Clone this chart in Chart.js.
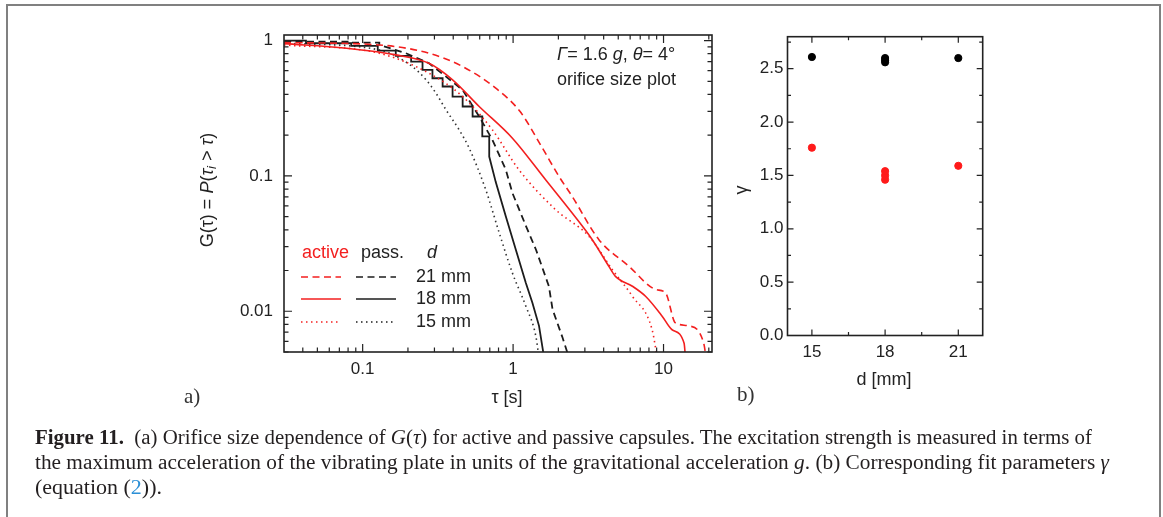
<!DOCTYPE html>
<html>
<head>
<meta charset="utf-8">
<script src="https://cdn.jsdelivr.net/npm/chart.js@4/dist/chart.umd.min.js"></script>
<style>
  body { margin: 0; background: #fff; width: 1163px; height: 517px; overflow: hidden; position: relative; }
  #frame { position: absolute; left: 6px; top: 4px; width: 1155px; height: 560px; border: 2.5px solid #808080; box-sizing: border-box; }
  canvas { position: absolute; left: 0; top: 0; }
  .cap { position: absolute; left: 35px; font-family: "Liberation Serif", serif; font-size: 20px; line-height: 25px;
         white-space: nowrap; transform-origin: 0 0; color: #231f20; }
  .lab { position: absolute; font-family: "Liberation Serif", serif; font-size: 21px; color: #333; }
</style>
</head>
<body>
<div id="frame"></div>
<canvas id="chartA" width="1163" height="517"></canvas>
<canvas id="chartB" width="1163" height="517"></canvas>
<div class="lab" style="left:184px;top:384px">a)</div>
<div class="lab" style="left:737px;top:382px">b)</div>
<div class="cap" data-w="1057" style="top:425px"><b>Figure 11.</b>&nbsp;&nbsp;(a) Orifice size dependence of <i>G</i>(<i>τ</i>) for active and passive capsules. The excitation strength is measured in terms of</div>
<div class="cap" data-w="1074" style="top:450px">the maximum acceleration of the vibrating plate in units of the gravitational acceleration <i>g</i>. (b) Corresponding fit parameters <i>γ</i></div>
<div class="cap" data-w="127" style="top:475px">(equation (<span style="color:#2b8fd6">2</span>)).</div>
<script>
// survival functions G(tau)
const tauA21 = [0.03, 0.128, 0.276, 0.462, 0.767, 1.11, 1.57, 2.02, 2.47, 3.72, 5.89, 8.85, 10.3, 12.0, 14.7, 18.5, 19.2];
const gA21   = [0.967, 0.929, 0.806, 0.643, 0.445, 0.30, 0.16, 0.099, 0.0706, 0.0338, 0.0215, 0.0145, 0.0137, 0.0082, 0.0078, 0.0058, 0.0045];
const tauA18 = [0.03, 0.078, 0.166, 0.276, 0.396, 0.595, 0.99, 1.645, 2.47, 3.36, 4.33, 4.79, 6.21, 7.59, 9.79, 11.4, 13.7, 14.0];
const gA18   = [0.95, 0.878, 0.784, 0.68, 0.513, 0.326, 0.19, 0.0937, 0.0532, 0.0338, 0.0215, 0.0181, 0.0153, 0.0129, 0.0092, 0.0073, 0.0058, 0.0045];
const tauA15 = [0.03, 0.129, 0.276, 0.462, 0.728, 1.094, 1.917, 3.19, 4.57, 6.21, 8.40, 9.09];
const gA15   = [0.93, 0.806, 0.574, 0.386, 0.219, 0.111, 0.0563, 0.0358, 0.0203, 0.0129, 0.0073, 0.0045];
const tauP21 = [0.03, 0.086, 0.086, 0.129, 0.129, 0.194, 0.276, 0.358, 0.462, 0.595, 0.728, 0.895, 0.99, 1.22, 1.42, 1.73, 1.83, 2.12, 2.36];
const gP21   = [0.983, 0.983, 0.967, 0.967, 0.929, 0.806, 0.68, 0.542, 0.432, 0.275, 0.185, 0.111, 0.0747, 0.0424, 0.0285, 0.0153, 0.0103, 0.0065, 0.0045];
const tauP18 = [0.03, 0.042, 0.042, 0.084, 0.084, 0.126, 0.126, 0.166, 0.166, 0.21, 0.21, 0.25, 0.25, 0.291, 0.291, 0.34, 0.34,
                0.396, 0.396, 0.462, 0.462, 0.538, 0.538, 0.624, 0.624, 0.694, 0.694, 0.767, 0.895, 1.043, 1.216, 1.345, 1.487, 1.61];
const gP18   = [1.0, 1.0, 0.956, 0.956, 0.913, 0.913, 0.844, 0.844, 0.77, 0.77, 0.70, 0.70, 0.608, 0.608, 0.527, 0.527, 0.458,
                0.458, 0.386, 0.386, 0.326, 0.326, 0.275, 0.275, 0.196, 0.196, 0.139, 0.09, 0.0502, 0.0285, 0.0162, 0.0115, 0.0078, 0.0045];
const tauP15 = [0.03, 0.129, 0.214, 0.264, 0.307, 0.358, 0.438, 0.511, 0.658, 0.809, 0.989, 1.216, 1.418, 1.487];
const gP15   = [0.956, 0.853, 0.643, 0.513, 0.409, 0.308, 0.219, 0.16, 0.0791, 0.0379, 0.0192, 0.0109, 0.0065, 0.0045];

const tauTicks = [0.04, 0.05, 0.06, 0.07, 0.08, 0.09, 0.1, 0.2, 0.3, 0.4, 0.5, 0.6, 0.7, 0.8, 0.9, 1,
                  2, 3, 4, 5, 6, 7, 8, 9, 10, 20];
const tauLabels = { 0.1: '0.1', 1: '1', 10: '10' };
const gTicks = [0.005, 0.006, 0.007, 0.008, 0.009, 0.01, 0.02, 0.03, 0.04, 0.05, 0.06, 0.07, 0.08, 0.09, 0.1,
                0.2, 0.3, 0.4, 0.5, 0.6, 0.7, 0.8, 0.9, 1];
const gLabels = { 0.01: '0.01', 0.1: '0.1', 1: '1' };

// fit parameter gamma, panel (b)
const dPassive = [15, 18, 18, 18, 21];
const gammaPassive = [2.61, 2.56, 2.58, 2.60, 2.60];
const dActive = [15, 18, 18, 18, 21];
const gammaActive = [1.76, 1.46, 1.50, 1.54, 1.59];
const dTicks = [15, 16.5, 18, 19.5, 21];
const dLabels = { 15: '15', 18: '18', 21: '21' };
const gammaTicks = [0, 0.25, 0.5, 0.75, 1, 1.25, 1.5, 1.75, 2, 2.25, 2.5, 2.75];

const FONT = '"Liberation Sans", Arial, sans-serif';
const RED = '#f31f1f';
const BLACK = '#1c1c1c';
Chart.defaults.font.family = FONT;
Chart.defaults.color = '#222';

function pts(xs, ys) {
  return xs.map((x, i) => ({ x: x, y: ys[i] }));
}

function richText(ctx, parts, x, y, size, align) {
  const f = (p) => (p.it ? 'italic ' : '') + Math.round(size * (p.s || 1)) + 'px ' + FONT;
  let w = 0;
  parts.forEach((p) => { ctx.font = f(p); w += ctx.measureText(p.t).width; });
  let cx = align === 'center' ? x - w / 2 : x;
  ctx.textAlign = 'left';
  ctx.textBaseline = 'middle';
  parts.forEach((p) => {
    ctx.font = f(p);
    ctx.fillText(p.t, cx, y + (p.dy || 0));
    cx += ctx.measureText(p.t).width;
  });
}

// closed frame with inward ticks on all four sides
function frameTicks(id, isMajX, isMajY, majLen, minLen) {
  return {
    id: id,
    afterDraw(chart) {
      const { ctx, chartArea: a } = chart;
      const xs = chart.scales.x, ys = chart.scales.y;
      ctx.save();
      ctx.strokeStyle = '#222';
      ctx.lineWidth = 1.6;
      ctx.strokeRect(a.left, a.top, a.right - a.left, a.bottom - a.top);
      ctx.lineWidth = 1.2;
      ctx.beginPath();
      xs.ticks.forEach((t) => {
        const p = xs.getPixelForValue(t.value);
        const l = isMajX(t.value) ? majLen : minLen;
        ctx.moveTo(p, a.bottom); ctx.lineTo(p, a.bottom - l);
        ctx.moveTo(p, a.top); ctx.lineTo(p, a.top + l);
      });
      ys.ticks.forEach((t) => {
        const p = ys.getPixelForValue(t.value);
        const l = isMajY(t.value) ? majLen : minLen;
        ctx.moveTo(a.left, p); ctx.lineTo(a.left + l, p);
        ctx.moveTo(a.right, p); ctx.lineTo(a.right - l, p);
      });
      ctx.stroke();
      ctx.restore();
    }
  };
}

const textA = {
  id: 'textA',
  afterDraw(chart) {
    const { ctx } = chart;
    ctx.save();
    ctx.fillStyle = '#222';
    richText(ctx, [{ t: 'τ [s]' }], 507, 398, 18, 'center');
    ctx.translate(208, 190);
    ctx.rotate(-Math.PI / 2);
    richText(ctx, [{ t: 'G(τ) = ' }, { t: 'P', it: 1 }, { t: '(' }, { t: 'τ', it: 1 },
      { t: 'i', it: 1, s: 0.7, dy: 4 }, { t: ' > ' }, { t: 'τ', it: 1 }, { t: ')' }], 0, 0, 18, 'center');
    ctx.restore();

    ctx.save();
    ctx.fillStyle = '#222';
    richText(ctx, [{ t: 'Γ', it: 1 }, { t: '= 1.6 ' }, { t: 'g', it: 1 }, { t: ', ' }, { t: 'θ', it: 1 }, { t: '= 4°' }], 557, 55, 18, 'left');
    richText(ctx, [{ t: 'orifice size plot' }], 557, 80, 18, 'left');

    // legend
    ctx.fillStyle = RED;
    richText(ctx, [{ t: 'active' }], 302, 253, 18, 'left');
    ctx.fillStyle = '#222';
    richText(ctx, [{ t: 'pass.' }], 361, 253, 18, 'left');
    richText(ctx, [{ t: 'd', it: 1 }], 427, 253, 18, 'left');
    const rows = [[277, [7, 4.5], '21 mm'], [299, [], '18 mm'], [322, [1.5, 3.5], '15 mm']];
    rows.forEach((r) => {
      ctx.lineWidth = 1.6;
      ctx.setLineDash(r[1]);
      ctx.strokeStyle = RED;
      ctx.beginPath(); ctx.moveTo(301, r[0]); ctx.lineTo(341, r[0]); ctx.stroke();
      ctx.strokeStyle = BLACK;
      ctx.beginPath(); ctx.moveTo(356, r[0]); ctx.lineTo(396, r[0]); ctx.stroke();
      ctx.setLineDash([]);
      richText(ctx, [{ t: r[2] }], 416, r[0], 18, 'left');
    });
    ctx.restore();
  }
};

const textB = {
  id: 'textB',
  afterDraw(chart) {
    const { ctx } = chart;
    ctx.save();
    ctx.fillStyle = '#222';
    richText(ctx, [{ t: 'd [mm]' }], 884, 380, 18, 'center');
    ctx.translate(742, 190);
    ctx.rotate(-Math.PI / 2);
    richText(ctx, [{ t: 'γ' }], 0, 0, 18, 'center');
    ctx.restore();
  }
};

function line(label, xs, ys, color, dash, width, smooth) {
  return {
    label: label,
    data: pts(xs, ys),
    borderColor: color,
    borderWidth: width,
    borderDash: dash,
    pointRadius: 0,
    fill: false,
    tension: 0,
    cubicInterpolationMode: smooth ? 'monotone' : 'default'
  };
}

new Chart(document.getElementById('chartA'), {
  type: 'line',
  data: {
    datasets: [
      line('active 21 mm', tauA21, gA21, RED, [7, 4.5], 1.6, true),
      line('active 18 mm', tauA18, gA18, RED, [], 1.6, true),
      line('active 15 mm', tauA15, gA15, RED, [1.5, 3.5], 1.6, true),
      line('pass. 21 mm', tauP21, gP21, BLACK, [7, 4.5], 1.8, false),
      line('pass. 18 mm', tauP18, gP18, BLACK, [], 1.8, false),
      line('pass. 15 mm', tauP15, gP15, '#333', [1.5, 3.5], 1.6, true)
    ]
  },
  options: {
    responsive: false,
    animation: false,
    layout: { padding: { left: 214, top: 35, right: 451, bottom: 125 } },
    plugins: { legend: { display: false }, tooltip: { enabled: false } },
    scales: {
      x: {
        type: 'logarithmic', min: 0.03, max: 21,
        grid: { display: false, drawTicks: false }, border: { display: false },
        afterBuildTicks: (s) => { s.ticks = tauTicks.map((v) => ({ value: v })); },
        afterFit: (s) => { s.height = 40; },
        ticks: { autoSkip: false, maxRotation: 0, padding: 7, font: { size: 17 }, color: '#222',
                 callback: (v) => tauLabels[v] || '' }
      },
      y: {
        type: 'logarithmic', min: 0.005, max: 1.1,
        grid: { display: false, drawTicks: false }, border: { display: false },
        afterBuildTicks: (s) => { s.ticks = gTicks.map((v) => ({ value: v })); },
        afterFit: (s) => { s.width = 70; },
        ticks: { autoSkip: false, padding: 11, font: { size: 17 }, color: '#222',
                 callback: (v) => gLabels[v] || '' }
      }
    }
  },
  plugins: [frameTicks('frameA', (v) => v in tauLabels, (v) => v in gLabels, 8, 4.5), textA]
});

new Chart(document.getElementById('chartB'), {
  type: 'scatter',
  data: {
    datasets: [
      { label: 'passive', data: pts(dPassive, gammaPassive), backgroundColor: '#000', borderColor: '#000', pointRadius: 3.6 },
      { label: 'active', data: pts(dActive, gammaActive), backgroundColor: '#ff1a1a', borderColor: '#ff1a1a', pointRadius: 3.6 }
    ]
  },
  options: {
    responsive: false,
    animation: false,
    layout: { padding: { left: 737.5, top: 36.7, right: 180.3, bottom: 141.5 } },
    plugins: { legend: { display: false }, tooltip: { enabled: false } },
    scales: {
      x: {
        type: 'linear', min: 14, max: 22,
        grid: { display: false, drawTicks: false }, border: { display: false },
        afterBuildTicks: (s) => { s.ticks = dTicks.map((v) => ({ value: v })); },
        afterFit: (s) => { s.height = 40; },
        ticks: { autoSkip: false, maxRotation: 0, padding: 7, font: { size: 17 }, color: '#222',
                 callback: (v) => dLabels[v] || '' }
      },
      y: {
        type: 'linear', min: 0, max: 2.8,
        grid: { display: false, drawTicks: false }, border: { display: false },
        afterBuildTicks: (s) => { s.ticks = gammaTicks.map((v) => ({ value: v })); },
        afterFit: (s) => { s.width = 50; },
        ticks: { autoSkip: false, padding: 4, font: { size: 17 }, color: '#222',
                 callback: (v) => (v % 0.5 === 0 ? v.toFixed(1) : '') }
      }
    }
  },
  plugins: [frameTicks('frameB', (v) => v in dLabels, (v) => v % 0.5 === 0, 6, 3.5), textB]
});

// squeeze caption lines to the measured widths of the original
document.fonts.ready.then(() => {
  document.querySelectorAll('.cap').forEach((el) => {
    const w = el.getBoundingClientRect().width;
    el.style.transform = 'scaleX(' + (+el.dataset.w / w) + ')';
  });
});
</script>
</body>
</html>
